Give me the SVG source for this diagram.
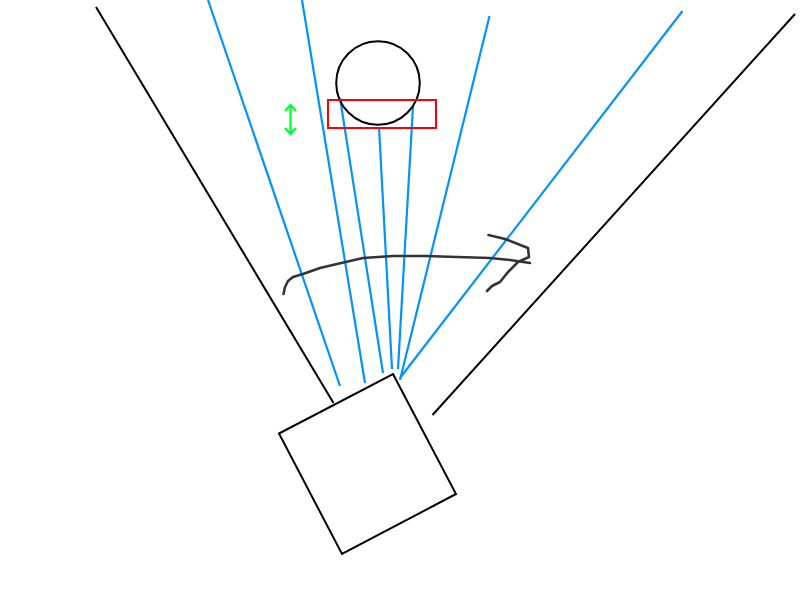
<svg xmlns="http://www.w3.org/2000/svg" width="800" height="600" viewBox="0 0 800 600">
<style>
.k{fill:none;stroke:#000;stroke-width:2}
.b{fill:none;stroke:#0492fb;stroke-width:2.200}
.g{fill:none;stroke:#00ff33;stroke-width:2.200}
.h{fill:none;stroke:#333;stroke-width:2.600;stroke-linecap:round;stroke-linejoin:round}
</style>
<rect width="800" height="600" fill="#fff"/>
<g id="connectors">
<path class="k" d="M96 7L333.500 403"/>
<path class="k" d="M795 14L432.500 415"/>
<path class="b" d="M208 0L340 386"/>
<path class="b" d="M302 0L365 383"/>
<path class="b" d="M340 98L383 373"/>
<path class="b" d="M379 127L392 369"/>
<path class="b" d="M413 106L398 369"/>
<path class="b" d="M489.500 16L400 380"/>
<path class="b" d="M682.500 11L400 378"/>
</g>
<g id="camera"><path class="k" d="M393 374L456 494L342 554L279 433.500Z"/></g>
<g id="ball"><circle class="k" cx="378" cy="83" r="41.800"/></g>
<g id="region"><rect x="328" y="100" width="108" height="28" fill="none" stroke="#fb0007" stroke-width="2"/></g>
<g id="updown"><path class="g" d="M290.500 105V134M285 111L290.500 105L296 111M285 128L290.500 134L296 128"/></g>
<g id="sweep"><path class="h" d="M283.500 294L285 287L288 281L293 277L303 274L320 268L337 264L350 261L363 258L393 256L425 256L457 257L490 258L510 260L530 263"/><path class="h" d="M488.500 235L505 239L528 248L529 257L518 262L508 272L500 282L492 286L487 291"/></g>
</svg>
